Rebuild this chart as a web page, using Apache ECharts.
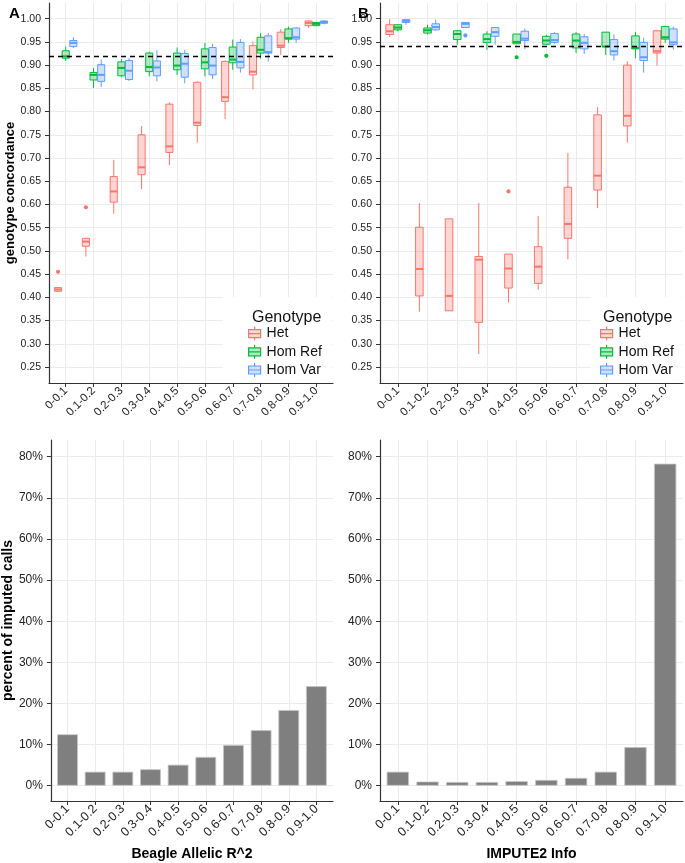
<!DOCTYPE html>
<html><head><meta charset="utf-8">
<script src="https://cdn.jsdelivr.net/npm/echarts@6/dist/echarts.min.js"></script>
<style>html,body{margin:0;padding:0;background:#fff}#c{width:685px;height:863px}</style>
</head><body><div id="c"></div>
<script>
// ---------- data ----------
const categories = ['0-0.1','0.1-0.2','0.2-0.3','0.3-0.4','0.4-0.5','0.5-0.6','0.6-0.7','0.7-0.8','0.8-0.9','0.9-1.0'];
const genotypes = ['Het','Hom Ref','Hom Var'];
// box rows: [min, q1, median, q3, max]
const beagleHet = [[0.412,0.413,0.417,0.421,0.422],[0.488,0.510,0.520,0.527,0.528],[0.580,0.605,0.628,0.660,0.696],[0.633,0.664,0.680,0.750,0.769],[0.685,0.712,0.725,0.816,0.820],[0.733,0.770,0.776,0.863,0.865],[0.784,0.822,0.831,0.908,0.910],[0.848,0.879,0.886,0.942,0.951],[0.922,0.938,0.942,0.971,0.978],[0.980,0.985,0.991,0.995,0.997]];
const beagleHomRef = [[0.909,0.915,0.919,0.931,0.940],[0.851,0.868,0.879,0.884,0.894],[0.874,0.877,0.894,0.907,0.913],[0.876,0.886,0.896,0.926,0.929],[0.879,0.890,0.899,0.926,0.938],[0.876,0.892,0.906,0.935,0.948],[0.890,0.905,0.912,0.939,0.955],[0.914,0.926,0.933,0.960,0.969],[0.948,0.956,0.958,0.978,0.983],[0.984,0.985,0.989,0.992,0.993]];
const beagleHomVar = [[0.937,0.940,0.948,0.953,0.960],[0.853,0.865,0.879,0.901,0.912],[0.866,0.869,0.888,0.910,0.915],[0.865,0.877,0.895,0.909,0.932],[0.861,0.874,0.903,0.925,0.933],[0.870,0.879,0.899,0.938,0.946],[0.884,0.894,0.907,0.949,0.956],[0.908,0.926,0.928,0.963,0.969],[0.948,0.956,0.960,0.980,0.982],[0.988,0.990,0.993,0.995,0.997]];
const imputeHet = [[0.961,0.966,0.973,0.987,0.999],[0.369,0.403,0.461,0.551,0.603],[0.371,0.371,0.403,0.569,0.569],[0.278,0.346,0.481,0.488,0.603],[0.389,0.420,0.462,0.493,0.493],[0.416,0.430,0.466,0.509,0.575],[0.482,0.527,0.558,0.637,0.711],[0.592,0.631,0.662,0.793,0.810],[0.733,0.769,0.791,0.900,0.908],[0.899,0.926,0.930,0.974,0.976]];
const imputeHomRef = [[0.973,0.976,0.981,0.987,0.988],[0.966,0.969,0.975,0.980,0.987],[0.944,0.955,0.967,0.974,0.975],[0.933,0.949,0.956,0.967,0.973],[0.946,0.946,0.950,0.967,0.967],[0.945,0.945,0.953,0.962,0.965],[0.926,0.937,0.953,0.967,0.971],[0.922,0.940,0.940,0.971,0.971],[0.915,0.935,0.937,0.963,0.971],[0.948,0.956,0.960,0.983,0.985]];
const imputeHomVar = [[0.987,0.992,0.995,0.998,0.999],[0.974,0.976,0.982,0.989,0.998],[0.981,0.981,0.989,0.992,0.992],[0.944,0.962,0.971,0.981,0.982],[0.935,0.953,0.957,0.973,0.979],[0.946,0.949,0.954,0.968,0.971],[0.924,0.935,0.948,0.961,0.967],[0.910,0.922,0.930,0.955,0.966],[0.884,0.910,0.917,0.949,0.959],[0.933,0.944,0.949,0.978,0.983]];
// outliers: [category index, value]
const beagleHetOut = [[0,0.455],[1,0.594]];
const imputeHetOut = [[4,0.628]];
const imputeHomRefOut = [[4,0.917],[5,0.920]];
const imputeHomVarOut = [[2,0.964]];
// bars: percent of imputed calls
const beagleBars = [12.5,3.4,3.4,4.0,5.1,7.0,9.9,13.5,18.4,24.2];
const imputeBars = [3.4,1.0,0.9,0.9,1.1,1.4,1.9,3.4,9.4,78.3];
// thresholds (dashed lines)
const beagleThreshold = 0.92;
const imputeThreshold = 0.94;
// tick values
const concordTicks = [0.25,0.30,0.35,0.40,0.45,0.50,0.55,0.60,0.65,0.70,0.75,0.80,0.85,0.90,0.95,1.00];
const percentTicks = [0,10,20,30,40,50,60,70,80];

// ---------- styling ----------
const FONT = 'Liberation Sans, Arial, Helvetica, sans-serif';
const colors = ['#F8766D','#00BA38','#619CFF'];
const fills = ['rgba(248,118,109,0.3)','rgba(0,186,56,0.3)','rgba(97,156,255,0.3)'];
const offsets = [-0.275, 0, 0.275];
const BOX_W = 0.255;
const catIdx = categories.map((c,i)=>i);
const gridColor = '#ebebeb';
const axisColor = '#333';

function boxRenderer(k){
  return function(params, api){
    const x = api.value(0);
    const lo = api.coord([x, api.value(1)]);
    const q1 = api.coord([x, api.value(2)]);
    const md = api.coord([x, api.value(3)]);
    const q3 = api.coord([x, api.value(4)]);
    const hi = api.coord([x, api.value(5)]);
    const band = api.size([1,0])[0];
    const cx = lo[0] + offsets[k]*band;
    const w = BOX_W*band;
    return {type:'group', children:[
      {type:'line', shape:{x1:cx,y1:hi[1],x2:cx,y2:q3[1]}, style:{stroke:colors[k],lineWidth:1}},
      {type:'line', shape:{x1:cx,y1:q1[1],x2:cx,y2:lo[1]}, style:{stroke:colors[k],lineWidth:1}},
      {type:'rect', shape:{x:cx-w/2,y:q3[1],width:w,height:Math.max(q1[1]-q3[1],1)}, style:{fill:fills[k],stroke:colors[k],lineWidth:1}},
      {type:'line', shape:{x1:cx-w/2,y1:md[1],x2:cx+w/2,y2:md[1]}, style:{stroke:colors[k],lineWidth:2}}
    ]};
  };
}
function outRenderer(k){
  return function(params, api){
    const p = api.coord([api.value(0), api.value(1)]);
    const band = api.size([1,0])[0];
    return {type:'circle', shape:{cx:p[0]+offsets[k]*band, cy:p[1], r:2.1}, style:{fill:colors[k]}};
  };
}
function boxSeries(rows, gi, k, extra){
  return Object.assign({
    type:'custom', name:genotypes[k], xAxisIndex:gi, yAxisIndex:gi,
    data: rows.map((r,i)=>[i].concat(r)),
    encode:{x:0, y:[1,2,3,4,5]},
    renderItem: boxRenderer(k), itemStyle:{color:colors[k]}, silent:true, z:3
  }, extra||{});
}
function outSeries(pts, gi, k){
  return {type:'custom', name:genotypes[k], xAxisIndex:gi, yAxisIndex:gi, data:pts,
    encode:{x:0,y:1}, renderItem: outRenderer(k), itemStyle:{color:colors[k]}, silent:true, z:3};
}
function dashLine(v){
  return {markLine:{silent:true, symbol:['none','none'], label:{show:false}, animation:false,
    lineStyle:{color:'#000', type:[5,4], width:1.3}, data:[{yAxis:v}]}};
}
function xAxisCfg(gi, fs, name){
  return {type:'value', gridIndex:gi, min:-0.6, max:9.6,
    name:name||'', nameLocation:'middle', nameGap:46,
    nameTextStyle:{fontFamily:FONT, fontWeight:'bold', fontSize:14, color:'#000'},
    axisLine:{show:true, onZero:false, lineStyle:{color:axisColor, width:1.2}},
    axisTick:{show:true, length:4, customValues:catIdx, lineStyle:{color:axisColor}},
    axisLabel:{customValues:catIdx, formatter:(v)=>categories[Math.round(v)], rotate:45, fontSize:fs, color:'#222', fontFamily:FONT, margin:6},
    splitLine:{show:true, lineStyle:{color:gridColor, width:1}}};
}
function yAxisCfg(gi, min, max, ticks, fmt, fs, name, gap, nfs){
  return {type:'value', gridIndex:gi, min:min, max:max,
    name:name||'', nameLocation:'middle', nameGap:gap||30, nameRotate:90,
    nameTextStyle:{fontFamily:FONT, fontWeight:'bold', fontSize:nfs||13, color:'#000'},
    axisLine:{show:true, onZero:false, lineStyle:{color:axisColor, width:1.2}},
    axisTick:{show:true, length:4, customValues:ticks, lineStyle:{color:axisColor}},
    axisLabel:{customValues:ticks, formatter:fmt, fontSize:fs, color:'#222', fontFamily:FONT, margin:8},
    splitLine:{show:true, lineStyle:{color:gridColor, width:1}}};
}
const boxIcon = 'path://M7,0L7,3M1,3L13,3L13,11L1,11ZM1,7L13,7M7,11L7,14';
function legendCfg(left){
  return {orient:'vertical', left:left, top:326, padding:0, itemWidth:14, itemHeight:14, itemGap:3,
    selectedMode:false, textStyle:{fontFamily:FONT, fontSize:14, color:'#111'},
    data: genotypes.map((g,k)=>({name:g, icon:boxIcon, itemStyle:{color:fills[k], borderColor:colors[k], borderWidth:1.2}}))};
}

const topMin = 0.2155, topMax = 1.0338;
const botMin = -3.72, botMax = 84.06;
const fmt2 = (v)=>v.toFixed(2);
const fmtPct = (v)=>v+'%';

const option = {
  animation:false,
  backgroundColor:'#fff',
  textStyle:{fontFamily:FONT},
  title:[
    {text:'A', left:4, top:1, textStyle:{fontFamily:FONT, fontWeight:'bold', fontSize:15, color:'#000'}},
    {text:'B', left:353, top:1, textStyle:{fontFamily:FONT, fontWeight:'bold', fontSize:15, color:'#000'}},
    {text:'Genotype', left:247, top:305, textStyle:{fontFamily:FONT, fontWeight:'normal', fontSize:16, color:'#111'}},
    {text:'Genotype', left:598, top:305, textStyle:{fontFamily:FONT, fontWeight:'normal', fontSize:16, color:'#111'}}
  ],
  graphic:[
    {type:'rect', z:1, shape:{x:223, y:297, width:109, height:85}, style:{fill:'#fff'}},
    {type:'rect', z:1, shape:{x:591, y:297, width:91, height:85}, style:{fill:'#fff'}}
  ],
  legend:[legendCfg(248), legendCfg(600)],
  grid:[
    {left:49, top:3, width:284, height:380},
    {left:380, top:3, width:303, height:380},
    {left:49, top:440, width:284, height:361},
    {left:380, top:440, width:303, height:361}
  ],
  xAxis:[xAxisCfg(0,11.5), xAxisCfg(1,11.5), xAxisCfg(2,12.5,'Beagle Allelic R^2'), xAxisCfg(3,12.5,'IMPUTE2 Info')],
  yAxis:[
    yAxisCfg(0, topMin, topMax, concordTicks, fmt2, 10.5, 'genotype concordance', 30, 13),
    yAxisCfg(1, topMin, topMax, concordTicks, fmt2, 10.5),
    yAxisCfg(2, botMin, botMax, percentTicks, fmtPct, 12, 'percent of imputed calls', 32, 14),
    yAxisCfg(3, botMin, botMax, percentTicks, fmtPct, 12)
  ],
  series:[
    boxSeries(beagleHet, 0, 0, dashLine(beagleThreshold)),
    boxSeries(beagleHomRef, 0, 1),
    boxSeries(beagleHomVar, 0, 2),
    outSeries(beagleHetOut, 0, 0),
    boxSeries(imputeHet, 1, 0, dashLine(imputeThreshold)),
    boxSeries(imputeHomRef, 1, 1),
    boxSeries(imputeHomVar, 1, 2),
    outSeries(imputeHetOut, 1, 0),
    outSeries(imputeHomRefOut, 1, 1),
    outSeries(imputeHomVarOut, 1, 2),
    {type:'bar', name:'beagle', xAxisIndex:2, yAxisIndex:2, data:beagleBars.map((v,i)=>[i,v]), barWidth:'75%',
      itemStyle:{color:'#7f7f7f', borderColor:'#c4c4c4', borderWidth:0.8}, silent:true},
    {type:'bar', name:'impute', xAxisIndex:3, yAxisIndex:3, data:imputeBars.map((v,i)=>[i,v]), barWidth:'75%',
      itemStyle:{color:'#7f7f7f', borderColor:'#c4c4c4', borderWidth:0.8}, silent:true}
  ]
};
const chart = echarts.init(document.getElementById('c'), null, {renderer:'canvas'});
chart.setOption(option);
</script></body></html>
